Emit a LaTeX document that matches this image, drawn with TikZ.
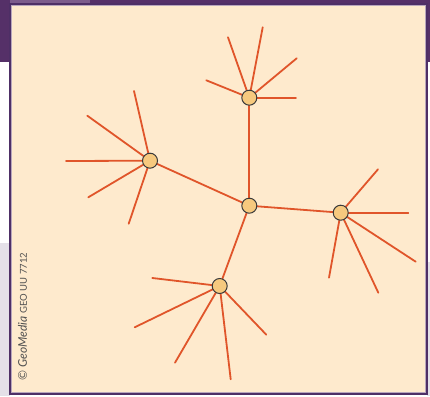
\documentclass[tikz,border=0pt]{standalone}
\usepackage{fontspec}
\setmainfont{Lato}
\definecolor{bgpurple}{HTML}{553068}
\definecolor{lightpurple}{HTML}{7C5C8C}
\definecolor{framepurple}{HTML}{4E2F66}
\definecolor{innerline}{HTML}{B8A6BC}
\definecolor{cream}{HTML}{FEEACD}
\definecolor{greyside}{HTML}{E4E0E8}
\definecolor{ray}{HTML}{E0552A}
\definecolor{nodefill}{HTML}{F6C97E}
\definecolor{nodeedge}{HTML}{3A3A3A}
\definecolor{credit}{HTML}{505050}
\begin{document}
\begin{tikzpicture}[x=1pt,y=-1pt,
  hub/.style={circle,draw=nodeedge,fill=nodefill,line width=1pt,minimum size=15pt,inner sep=0pt},
  raystyle/.style={draw=ray,line width=1.8pt,line cap=round}]
\useasboundingbox (0,0) rectangle (430,396);
% background
\fill[white] (0,0) rectangle (430,396);
\fill[bgpurple] (0,0) rectangle (430,62);
\fill[lightpurple] (10,0) rectangle (90,3);
\fill[greyside] (0,243) rectangle (10,396);
\fill[greyside] (427,262) rectangle (430,396);
% frame
\fill[cream] (10,4) rectangle (427,394);
\draw[innerline,line width=0.6pt] (11.6,5.6) rectangle (425.4,392.2);
\draw[framepurple,line width=2pt] (10,4) rectangle (427,394);
% endpoints
\coordinate (t1) at (228,37.3);
\coordinate (t2) at (262.7,27.3);
\coordinate (t3) at (296.7,58.3);
\coordinate (t4) at (296,97.7);
\coordinate (t5) at (206.3,80.3);
\coordinate (l1) at (134,91);
\coordinate (l2) at (87.3,115.7);
\coordinate (l3) at (66,161);
\coordinate (l4) at (88.3,197.3);
\coordinate (l5) at (128.7,223.7);
\coordinate (r1) at (378,169.3);
\coordinate (r2) at (408.3,212.7);
\coordinate (r3) at (415.7,261.7);
\coordinate (r4) at (378.3,292.7);
\coordinate (r5) at (329,277.7);
\coordinate (b1) at (152.3,278);
\coordinate (b2) at (134.7,327.3);
\coordinate (b3) at (175,362.7);
\coordinate (b4) at (230.7,379.3);
\coordinate (b5) at (266.3,334.7);
% hubs positions
\coordinate (Cc) at (249.3,205.7);
\coordinate (Tc) at (249.3,97.7);
\coordinate (Lc) at (150,160.7);
\coordinate (Rc) at (340.7,212.7);
\coordinate (Bc) at (219.7,286);
% rays
\foreach \e in {t1,t2,t3,t4,t5} \draw[raystyle] (Tc) -- (\e);
\foreach \e in {l1,l2,l3,l4,l5} \draw[raystyle] (Lc) -- (\e);
\foreach \e in {r1,r2,r3,r4,r5} \draw[raystyle] (Rc) -- (\e);
\foreach \e in {b1,b2,b3,b4,b5} \draw[raystyle] (Bc) -- (\e);
\foreach \e in {Tc,Lc,Rc,Bc} \draw[raystyle] (Cc) -- (\e);
% nodes
\node[hub] (C) at (Cc) {};
\node[hub] (T) at (Tc) {};
\node[hub] (L) at (Lc) {};
\node[hub] (R) at (Rc) {};
\node[hub] (B) at (Bc) {};
% credit
\node[rotate=90,anchor=west,inner sep=0pt,text=credit,font=\fontsize{12}{13}\selectfont] (credit) at (22.5,381) {\char"00A9\ \textit{GeoMedia} {\fontsize{9.5}{10}\selectfont GEO UU 7712}};
\end{tikzpicture}
\end{document}
